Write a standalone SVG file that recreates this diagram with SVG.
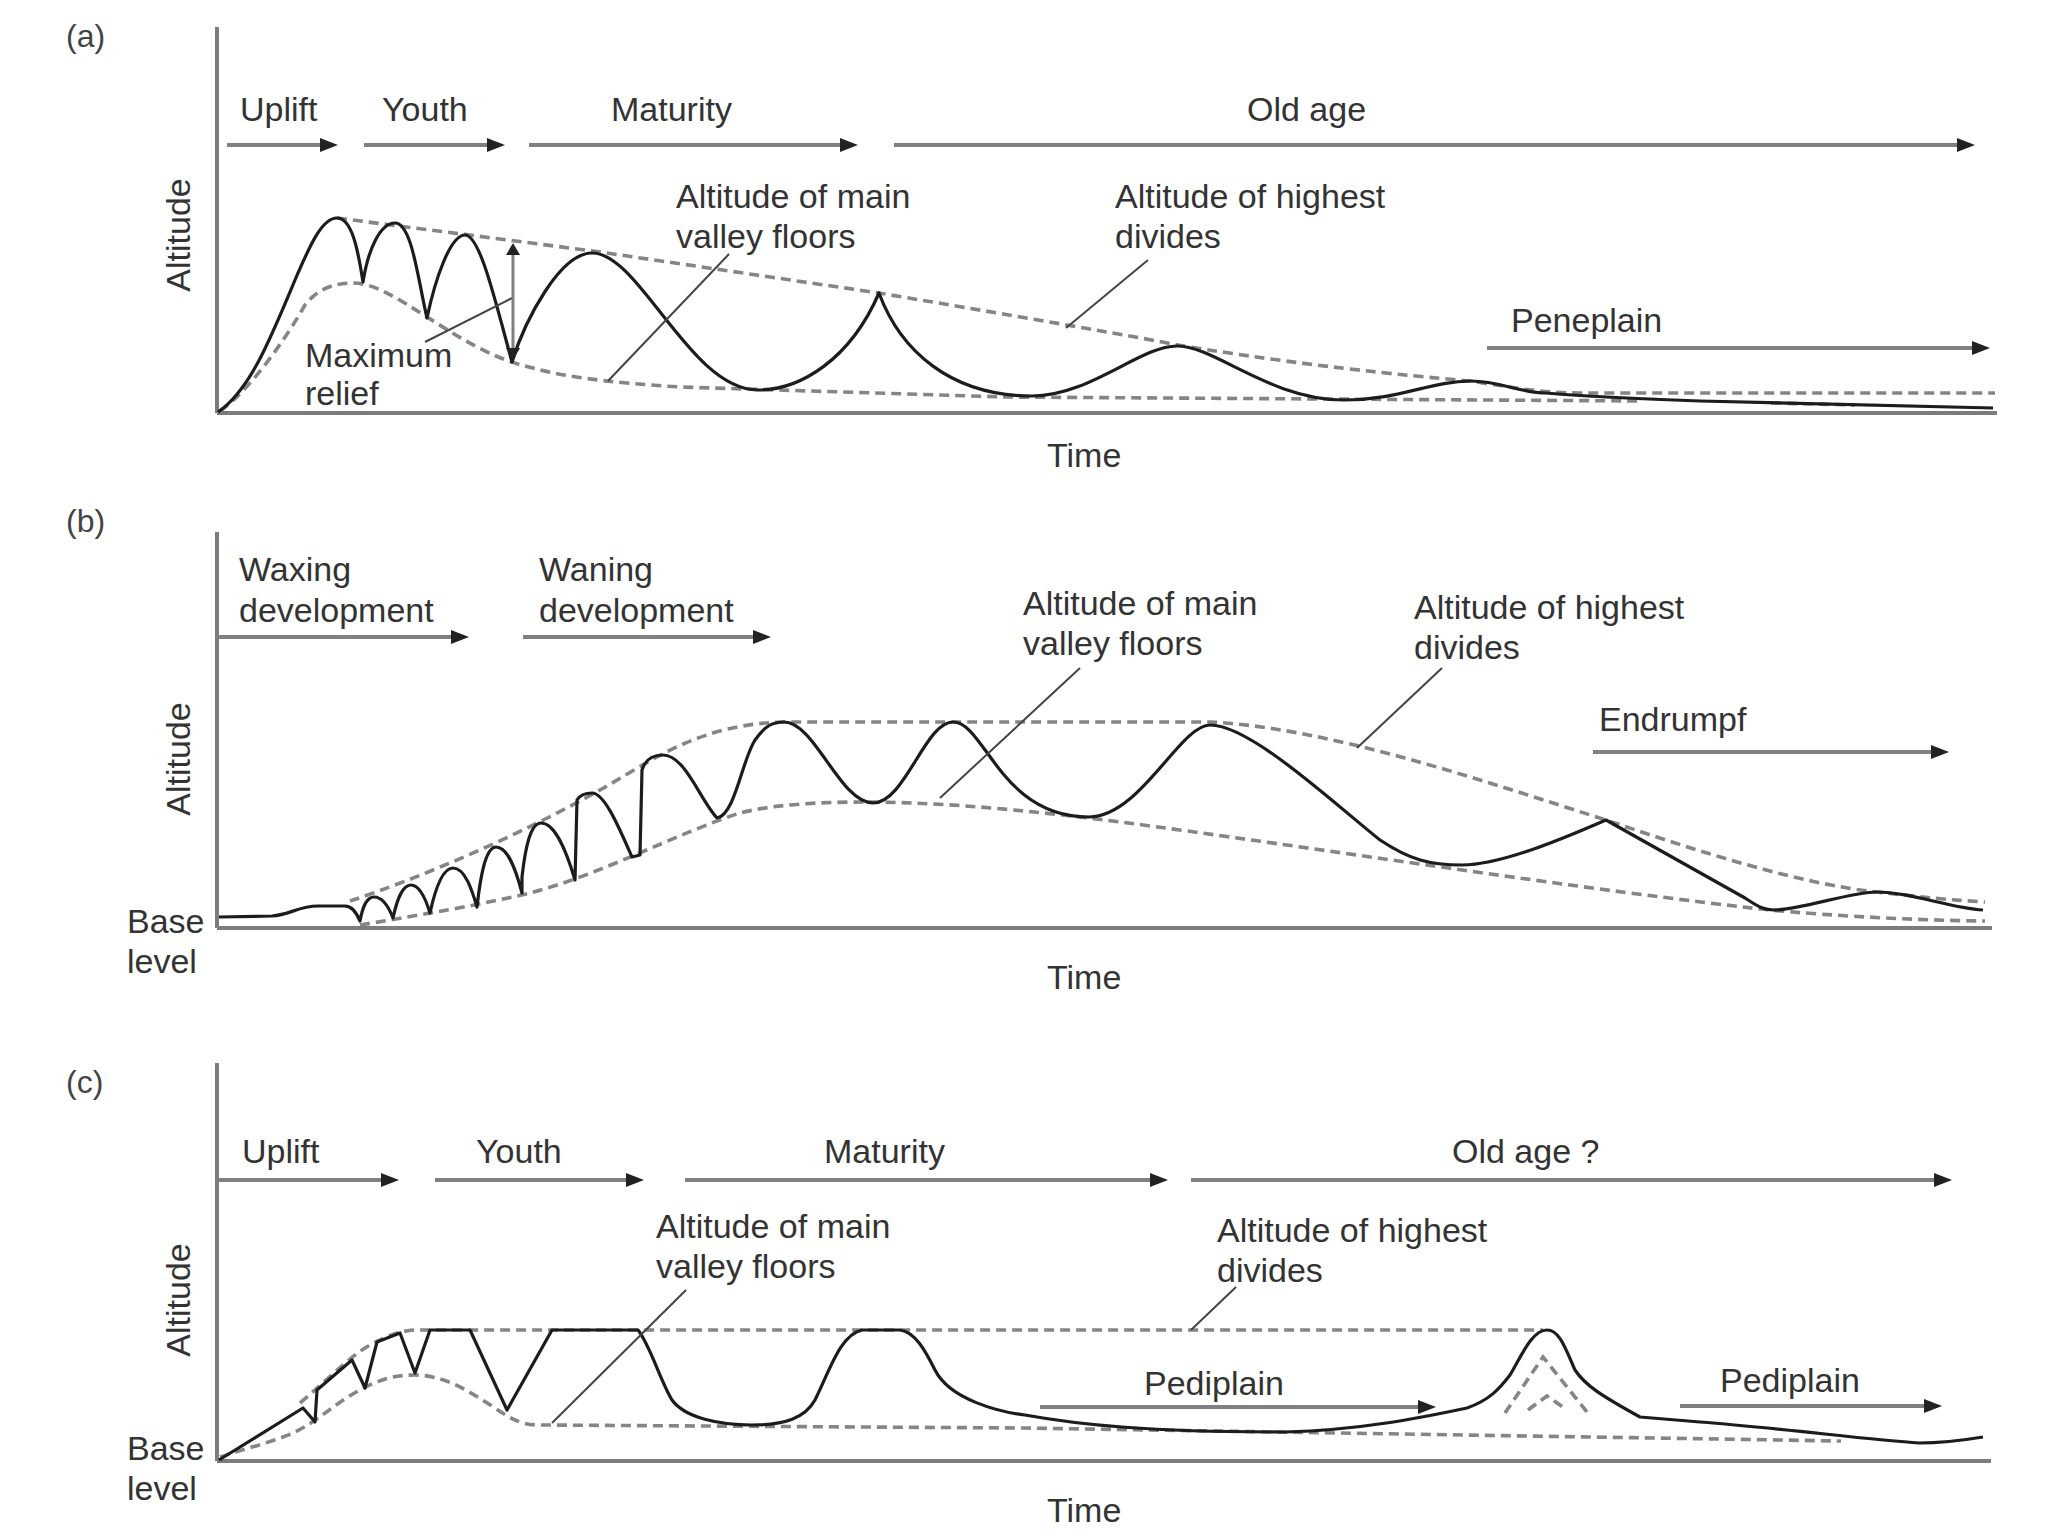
<svg xmlns="http://www.w3.org/2000/svg" width="2048" height="1536" viewBox="0 0 2048 1536">
<defs>
<marker id="ah" viewBox="0 0 18 14" refX="8" refY="7" markerWidth="18" markerHeight="14" markerUnits="userSpaceOnUse" orient="auto-start-reverse">
<path d="M0,0 L18,7 L0,14 z" fill="#222"/>
</marker>
<marker id="ahs" viewBox="0 0 12 16" refX="6" refY="8" markerWidth="12" markerHeight="16" markerUnits="userSpaceOnUse" orient="auto-start-reverse">
<path d="M0,1 L12,8 L0,15 z" fill="#222"/>
</marker>
<style>
text{font-family:"Liberation Sans",Arial,sans-serif;font-size:34px;fill:#333}
.tag{font-size:32px;fill:#444}
.axis{stroke:#7c7c7c;stroke-width:4;fill:none}
.curve{stroke:#1c1c1c;stroke-width:3.2;fill:none;stroke-linejoin:round}
.dash{stroke:#858585;stroke-width:3.6;fill:none;stroke-dasharray:10 6}
.phase{stroke:#808080;stroke-width:4;fill:none;marker-end:url(#ah)}
.leader{stroke:#444;stroke-width:2;fill:none}
.dbl{stroke:#808080;stroke-width:3;fill:none;marker-start:url(#ahs);marker-end:url(#ahs)}
</style>
</defs>
<rect width="2048" height="1536" fill="#fff"/>

<!-- ================= Panel (a) ================= -->
<g id="panel-a">
<text class="tag" x="66" y="47">(a)</text>
<g id="a-axes">
<line class="axis" x1="217" y1="27" x2="217" y2="413"/>
<line class="axis" x1="217" y1="413" x2="1997" y2="413"/>
<text transform="translate(190,235) rotate(-90)" text-anchor="middle">Altitude</text>
<text x="1047" y="467">Time</text>
</g>
<g id="a-curves">
<path class="dash" d="M337,218 L593,251 L879,293 C950,305 1100,330 1178,345 C1300,365 1400,375 1470,381 C1510,387 1540,393 1580,393 L1995,393"/>
<path class="dash" d="M220,411 C250,390 285,340 305,305 C318,288 335,283 353,283 C375,283 400,300 427,317 C460,338 490,357 525,366 C560,376 600,382 680,387 L1006,397 L1643,401"/>
<path class="dash" d="M1771,403 L1855,405"/>
<path class="curve" d="M218,412 C250,390 270,340 295,280 C310,245 322,218 337,218 C352,218 358,250 363,282 C368,250 380,223 395,223 C412,223 418,280 427,318 C435,280 450,235 465,235 C480,235 495,300 512,362 C525,320 560,253 592,253 C640,253 690,390 758,390 C800,390 850,360 879,293 C900,350 950,396 1032,396 C1090,396 1140,346 1177,346 C1215,346 1270,400 1344,400 C1400,400 1430,381 1471,381 C1500,381 1520,393 1546,393 C1580,396 1620,398 1700,401 L1993,408"/>
</g>
<g id="a-labels">
<text x="240" y="121">Uplift</text>
<text x="382" y="121">Youth</text>
<text x="611" y="121">Maturity</text>
<text x="1247" y="121">Old age</text>
<text x="676" y="208">Altitude of main</text>
<text x="676" y="248">valley floors</text>
<text x="1115" y="208">Altitude of highest</text>
<text x="1115" y="248">divides</text>
<text x="1511" y="332">Peneplain</text>
<text x="305" y="367">Maximum</text>
<text x="305" y="405">relief</text>
</g>
<g id="a-connectors">
<line class="phase" x1="227" y1="145" x2="328" y2="145"/>
<line class="phase" x1="364" y1="145" x2="495" y2="145"/>
<line class="phase" x1="529" y1="145" x2="848" y2="145"/>
<line class="phase" x1="894" y1="145" x2="1965" y2="145"/>
<line class="phase" x1="1487" y1="348" x2="1980" y2="348"/>
<line class="leader" x1="729" y1="254" x2="608" y2="381"/>
<line class="leader" x1="1148" y1="260" x2="1066" y2="328"/>
<line class="leader" x1="425" y1="342" x2="512" y2="298"/>
<line class="dbl" x1="513" y1="249" x2="513" y2="354"/>
</g>
</g>

<!-- ================= Panel (b) ================= -->
<g id="panel-b">
<text class="tag" x="66" y="532">(b)</text>
<g id="b-axes">
<line class="axis" x1="217" y1="532" x2="217" y2="928"/>
<line class="axis" x1="217" y1="928" x2="1992" y2="928"/>
<text transform="translate(190,759) rotate(-90)" text-anchor="middle">Altitude</text>
<text x="127" y="933">Base</text>
<text x="127" y="973">level</text>
<text x="1047" y="989">Time</text>
</g>
<g id="b-curves">
<path class="dash" d="M350,901 C420,878 520,835 600,790 C650,762 700,722 790,722 L1210,722 C1330,728 1480,780 1606,820 C1700,852 1800,884 1877,892 C1920,897 1950,900 1985,902"/>
<path class="dash" d="M360,925 C420,915 480,905 530,893 C600,875 680,832 740,813 C780,803 830,802 873,802 C950,803 1020,810 1089,818 C1250,838 1550,885 1743,907 C1800,914 1900,920 1985,921"/>
<path class="curve" d="M219,917 L272,916 C290,915 298,906 318,906 L345,906 C352,906 356,912 360,921 C363,905 367,897 374,897 C382,897 388,905 393,918 C397,900 402,885 411,885 C420,885 426,900 430,913 C435,890 442,868 453,868 C465,868 472,890 477,907 C480,880 485,847 496,847 C508,847 516,870 522,893 L522,877 C525,850 530,823 541,823 C555,823 566,850 575,880 L577,800 C580,795 585,793 592,793 C605,793 620,830 632,857 L640,855 L642,770 C645,760 652,755 663,755 C685,755 700,800 717,818 C735,815 742,760 755,740 C765,726 772,722 784,722 C815,722 840,803 873,803 C905,803 925,722 953,722 C985,722 1000,817 1089,817 C1140,817 1180,725 1210,725 C1250,725 1330,800 1380,840 C1410,860 1430,865 1462,865 C1500,865 1560,840 1606,820 L1745,898 C1760,908 1765,910 1774,910 C1800,910 1850,892 1877,892 C1910,892 1950,908 1983,910"/>
</g>
<g id="b-labels">
<text x="239" y="581">Waxing</text>
<text x="239" y="622">development</text>
<text x="539" y="581">Waning</text>
<text x="539" y="622">development</text>
<text x="1023" y="615">Altitude of main</text>
<text x="1023" y="655">valley floors</text>
<text x="1414" y="619">Altitude of highest</text>
<text x="1414" y="659">divides</text>
<text x="1599" y="731">Endrumpf</text>
</g>
<g id="b-connectors">
<line class="phase" x1="219" y1="637" x2="459" y2="637"/>
<line class="phase" x1="523" y1="637" x2="761" y2="637"/>
<line class="phase" x1="1593" y1="752" x2="1939" y2="752"/>
<line class="leader" x1="1080" y1="668" x2="940" y2="798"/>
<line class="leader" x1="1442" y1="668" x2="1357" y2="748"/>
</g>
</g>

<!-- ================= Panel (c) ================= -->
<g id="panel-c">
<text class="tag" x="66" y="1093">(c)</text>
<g id="c-axes">
<line class="axis" x1="217" y1="1063" x2="217" y2="1461"/>
<line class="axis" x1="217" y1="1461" x2="1991" y2="1461"/>
<text transform="translate(190,1300) rotate(-90)" text-anchor="middle">Altitude</text>
<text x="127" y="1460">Base</text>
<text x="127" y="1500">level</text>
<text x="1047" y="1522">Time</text>
</g>
<g id="c-curves">
<path class="dash" d="M300,1403 C330,1378 355,1350 380,1340 C390,1335 400,1331 415,1330 L1543,1330"/>
<path class="dash" d="M220,1457 C240,1450 270,1443 293,1433 C320,1420 335,1403 360,1390 C380,1379 395,1375 415,1375 C445,1375 470,1392 495,1408 C510,1418 520,1425 540,1425 L1024,1428 L1841,1441"/>
<path class="dash" d="M1505,1413 L1543,1357 L1587,1412"/>
<path class="dash" d="M1528,1410 L1547,1396 L1567,1410"/>
<path class="curve" d="M219,1460 L303,1408 L315,1422 L317,1390 L352,1360 L365,1388 L377,1342 L400,1333 L415,1373 L430,1330 L470,1330 L507,1410 L552,1330 L638,1330 C650,1345 660,1380 672,1400 C685,1418 720,1425 752,1425 C785,1425 805,1418 815,1400 C830,1370 840,1335 862,1330 L900,1330 C915,1332 925,1350 935,1370 C950,1400 1000,1412 1025,1415 C1080,1425 1150,1432 1285,1432 C1360,1430 1420,1418 1467,1408 C1490,1400 1500,1388 1510,1375 C1522,1355 1532,1330 1547,1330 C1560,1330 1566,1350 1575,1370 C1585,1385 1600,1395 1640,1417 L1700,1422 C1780,1428 1870,1440 1919,1443 C1945,1443 1965,1440 1983,1437"/>
</g>
<g id="c-labels">
<text x="242" y="1163">Uplift</text>
<text x="476" y="1163">Youth</text>
<text x="824" y="1163">Maturity</text>
<text x="1452" y="1163">Old age ?</text>
<text x="656" y="1238">Altitude of main</text>
<text x="656" y="1278">valley floors</text>
<text x="1217" y="1242">Altitude of highest</text>
<text x="1217" y="1282">divides</text>
<text x="1144" y="1395">Pediplain</text>
<text x="1720" y="1392">Pediplain</text>
</g>
<g id="c-connectors">
<line class="phase" x1="219" y1="1180" x2="389" y2="1180"/>
<line class="phase" x1="435" y1="1180" x2="634" y2="1180"/>
<line class="phase" x1="685" y1="1180" x2="1158" y2="1180"/>
<line class="phase" x1="1191" y1="1180" x2="1942" y2="1180"/>
<line class="phase" x1="1040" y1="1407" x2="1426" y2="1407"/>
<line class="phase" x1="1680" y1="1406" x2="1932" y2="1406"/>
<line class="leader" x1="686" y1="1290" x2="552" y2="1423"/>
<line class="leader" x1="1236" y1="1287" x2="1191" y2="1330"/>
</g>
</g>
</svg>
